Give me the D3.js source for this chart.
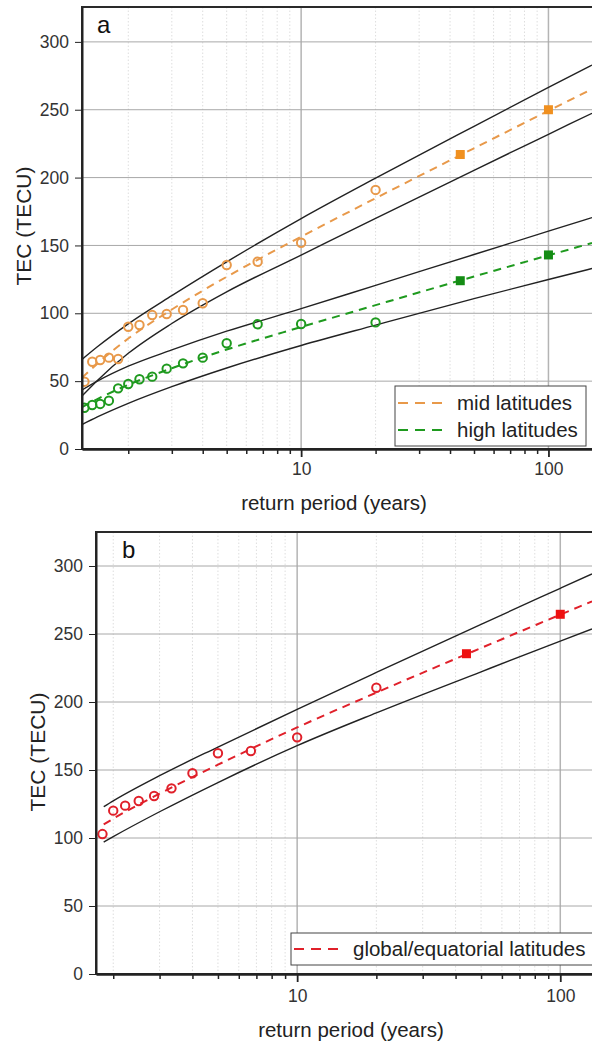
<!DOCTYPE html>
<meta charset="utf-8">
<style>
body { margin: 0; background: #fff; }
svg { font-family: "Liberation Sans", Arial, sans-serif; display: block; }
.grid-major line { stroke: #a8a8a8; stroke-width: 1; }
.grid-minor line { stroke: #dedede; stroke-width: 1; stroke-dasharray: 1.5,2; }
.axis path, .axis line { stroke: #222; }
.axis text { fill: #333; font-size: 17.5px; }
.bound { fill: none; stroke: #222; stroke-width: 1.4; }
.fit { fill: none; stroke-width: 2; stroke-dasharray: 8,6; }
</style>
<svg width="592" height="1044"></svg>
<script src="https://cdn.jsdelivr.net/npm/d3@7"></script>
<script>

// empirical return periods of the observed annual maxima (years)
var obsPeriods = [20, 10, 6.67, 5, 4, 3.33, 2.86, 2.5, 2.22, 2, 1.82, 1.67, 1.54, 1.43, 1.33];
var midObs = [190.9, 152, 138, 135.6, 107.4, 102.4, 99.5, 98.7, 91.4, 90.1, 66.3, 67.3, 65.6, 64.3, 49.6];
var highObs = [93.3, 92.1, 91.9, 77.9, 67.3, 63.1, 59.2, 53.3, 51.4, 47.9, 44.7, 35.6, 33.2, 32.4, 30.4];
var globalPeriods = [20, 10, 6.67, 5, 4, 3.33, 2.86, 2.5, 2.22, 2, 1.82];
var globalObs = [210.5, 174, 164, 162.3, 147.6, 136.5, 130.9, 127.2, 123.8, 120.1, 102.9];

// return levels (filled squares)
var levelPeriods = [44, 100];
var midLevels = [217, 250];
var highLevels = [124, 143];
var globalLevels = [235.5, 264.5];

// fitted curves and confidence bounds
var fitPeriodsA = [1.3, 1.5, 2, 3, 5, 10, 20, 50, 100, 150];
var midFit   = [52.5, 62.9, 81.4, 102.8, 126.9, 156.4, 184.8, 221.6, 249.2, 265.2];
var midUpper = [66, 75.3, 92.2, 113, 137.9, 169.8, 199.6, 237.8, 266.4, 282.9];
var midLower = [39, 50.5, 70.5, 92.5, 115.8, 142.9, 170, 205.4, 231.9, 247.4];
var highFit   = [30.8, 36.8, 47.3, 59.5, 73.3, 89.9, 106, 127.1, 142.7, 151.8];
var highUpper = [43.5, 50, 61, 73, 86.8, 103.4, 120.6, 143.3, 160.5, 170.5];
var highLower = [18, 23.6, 33.6, 45.9, 59.7, 76.3, 91.3, 110.8, 124.9, 133];

var fitPeriodsB = [1.84, 2, 3, 5, 10, 20, 50, 100, 132];
var globalFit   = [110, 114.2, 132.6, 153.9, 181.3, 206.9, 239.7, 264.2, 274];
var globalUpper = [123, 127.3, 145.8, 166.9, 194.6, 221.7, 257.1, 283.6, 294.2];
var globalLower = [97, 101, 119.3, 140.8, 167.9, 192, 222.2, 244.8, 253.7];

var yTicks = [0, 50, 100, 150, 200, 250, 300];
var xMajor = [10, 100];
var xMinor = [2, 3, 4, 5, 6, 7, 8, 9, 20, 30, 40, 50, 60, 70, 80, 90];

var svg = d3.select("svg");

function pairs(xs, ys) {
    return xs.map(function(x, i) { return [x, ys[i]]; });
}

function drawPanel(p) {
    var x = d3.scaleLog().domain(p.xDomain).range([p.left, 592]);
    var y = d3.scaleLinear().domain([0, p.yMax]).range([p.bottom, p.top]);
    var g = svg.append("g");

    g.append("clipPath").attr("id", "clip-" + p.id)
      .append("rect")
        .attr("x", p.left).attr("y", p.top)
        .attr("width", 600 - p.left).attr("height", p.bottom - p.top);

    // grid
    g.append("g").attr("class", "grid-minor")
      .selectAll("line").data(xMinor.filter(function(v) { return v > p.xDomain[0]; }))
      .enter().append("line")
        .attr("x1", function(d) { return x(d); }).attr("x2", function(d) { return x(d); })
        .attr("y1", p.top).attr("y2", p.bottom);
    g.append("g").attr("class", "grid-major")
      .selectAll("line").data(xMajor)
      .enter().append("line")
        .attr("x1", function(d) { return x(d); }).attr("x2", function(d) { return x(d); })
        .attr("y1", p.top).attr("y2", p.bottom)
        .style("stroke-width", 1.5).style("stroke", "#b4b4b4");
    g.append("g").attr("class", "grid-major")
      .selectAll("line").data(yTicks.slice(1))
      .enter().append("line")
        .attr("x1", p.left).attr("x2", 600)
        .attr("y1", function(d) { return y(d); }).attr("y2", function(d) { return y(d); });

    var line = d3.line()
        .x(function(d) { return x(d[0]); })
        .y(function(d) { return y(d[1]); })
        .curve(d3.curveMonotoneX);

    var plot = g.append("g").attr("clip-path", "url(#clip-" + p.id + ")");

    p.series.forEach(function(s) {
        plot.append("path").attr("class", "bound")
            .attr("d", line(pairs(s.fitX, s.upper)));
        plot.append("path").attr("class", "bound")
            .attr("d", line(pairs(s.fitX, s.lower)));
    });
    p.series.forEach(function(s) {
        plot.append("path").attr("class", "fit")
            .attr("stroke", s.color)
            .attr("d", line(pairs(s.fitX, s.fit)));
        plot.selectAll(null).data(pairs(s.obsX, s.obs))
          .enter().append("circle")
            .attr("cx", function(d) { return x(d[0]); })
            .attr("cy", function(d) { return y(d[1]); })
            .attr("r", 4.2)
            .attr("fill", "none")
            .attr("stroke", s.color)
            .attr("stroke-width", 2);
        plot.selectAll(null).data(pairs(levelPeriods, s.levels))
          .enter().append("rect")
            .attr("x", function(d) { return x(d[0]) - 4.5; })
            .attr("y", function(d) { return y(d[1]) - 4.5; })
            .attr("width", 9).attr("height", 9)
            .attr("fill", s.square);
    });

    // legend
    var lg = g.append("g");
    lg.append("rect")
        .attr("x", p.legend.x).attr("y", p.legend.y)
        .attr("width", p.legend.w).attr("height", p.legend.h)
        .attr("fill", "#fff").attr("stroke", "#444").attr("stroke-width", 1);
    p.series.forEach(function(s, i) {
        var ly = p.legend.y + p.legend.first + i * 27;
        lg.append("line")
            .attr("x1", p.legend.x + 3).attr("x2", p.legend.x + 52)
            .attr("y1", ly).attr("y2", ly)
            .attr("stroke", s.color).attr("stroke-width", 2)
            .attr("stroke-dasharray", "10,7");
        lg.append("text")
            .attr("x", p.legend.x + 62).attr("y", ly + 7)
            .attr("font-size", "20.5px").attr("fill", "#222")
            .text(s.name);
    });

    // frame (right edge falls outside the picture)
    g.append("rect")
        .attr("x", p.left).attr("y", p.top)
        .attr("width", 620 - p.left).attr("height", p.bottom - p.top)
        .attr("fill", "none").attr("stroke", "#2a2a2a").attr("stroke-width", 2);

    // axes
    g.append("g").attr("class", "axis")
        .attr("transform", "translate(" + p.left + ",0)")
        .call(d3.axisLeft(y).tickValues(yTicks).tickSize(7).tickPadding(6).tickSizeOuter(0))
        .call(function(a) { a.select(".domain").attr("stroke-width", 2); });
    g.append("g").attr("class", "axis")
        .attr("transform", "translate(0," + p.bottom + ")")
        .call(d3.axisBottom(x).tickValues(xMinor).tickSize(5).tickFormat("").tickSizeOuter(0))
        .call(function(a) { a.select(".domain").remove(); a.selectAll("line").attr("stroke-width", 1.5); });
    g.append("g").attr("class", "axis")
        .attr("transform", "translate(0," + p.bottom + ")")
        .call(d3.axisBottom(x).tickValues(xMajor).tickSize(8).tickPadding(p.xPad)
            .tickFormat(d3.format("d")).tickSizeOuter(0))
        .call(function(a) {
            a.select(".domain").attr("stroke-width", 2.5);
            a.selectAll("line").attr("stroke-width", 1.8);
        });

    // labels
    g.append("text")
        .attr("x", p.letterX).attr("y", p.top + 26)
        .attr("font-size", "24px").attr("fill", "#111")
        .text(p.id);
    g.append("text")
        .attr("x", p.titleX).attr("y", p.titleY)
        .attr("text-anchor", "middle").attr("font-size", "20.5px").attr("fill", "#222")
        .text("return period (years)");
    g.append("text")
        .attr("transform", "translate(" + p.yTitleX + "," + p.yTitleY + ") rotate(-90)")
        .attr("text-anchor", "middle").attr("font-size", "21px").attr("fill", "#222")
        .text("TEC (TECU)");
}

drawPanel({
    id: "a", left: 82, top: 7, bottom: 449, yMax: 325.7, xDomain: [1.3, 150], xPad: 6,
    letterX: 97, titleX: 334, titleY: 510, yTitleX: 31, yTitleY: 226,
    legend: { x: 395, y: 386, w: 191, h: 60, first: 17 },
    series: [
        { name: "mid latitudes", color: "#e8994a", square: "#f0901f",
          obsX: obsPeriods, obs: midObs, levels: midLevels,
          fitX: fitPeriodsA, fit: midFit, upper: midUpper, lower: midLower },
        { name: "high latitudes", color: "#1e9a1e", square: "#148c14",
          obsX: obsPeriods, obs: highObs, levels: highLevels,
          fitX: fitPeriodsA, fit: highFit, upper: highUpper, lower: highLower }
    ]
});

drawPanel({
    id: "b", left: 96, top: 532, bottom: 974, yMax: 325, xDomain: [1.72, 132], xPad: 8,
    letterX: 122, titleX: 351, titleY: 1037, yTitleX: 45, yTitleY: 752,
    legend: { x: 291, y: 933, w: 320, h: 32, first: 16 },
    series: [
        { name: "global/equatorial latitudes", color: "#e0202a", square: "#ee1010",
          obsX: globalPeriods, obs: globalObs, levels: globalLevels,
          fitX: fitPeriodsB, fit: globalFit, upper: globalUpper, lower: globalLower }
    ]
});

</script>
